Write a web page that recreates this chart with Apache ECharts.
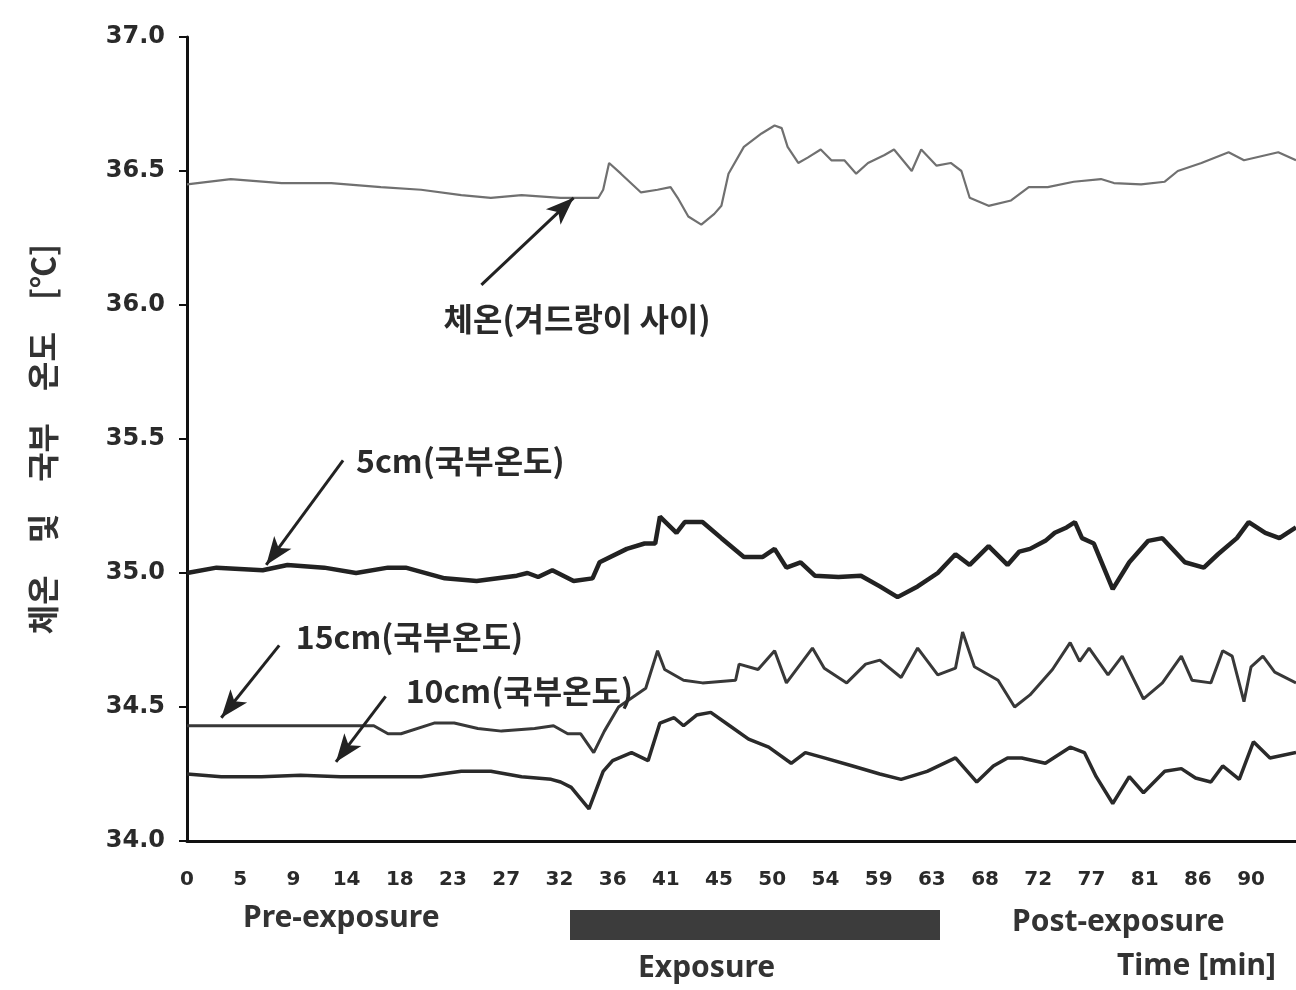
<!DOCTYPE html>
<html>
<head>
<meta charset="utf-8">
<script src="https://cdn.jsdelivr.net/npm/echarts@6/dist/echarts.min.js"></script>
<style>
html,body{margin:0;padding:0;background:#fff;}
#chart{width:1296px;height:990px;}
</style>
</head>
<body>
<div id="chart"></div>
<script>
// ---- data (time in min, temperature in °C) ----
const xTickLabels = ['0','5','9','14','18','23','27','32','36','41','45','50','54','59','63','68','72','77','81','86','90'];
const yTickLabels = ['34.0','34.5','35.0','35.5','36.0','36.5','37.0'];

const bodyTime = [0,3.7,8.0,12.2,16.4,19.8,23.2,25.7,28.3,31.6,34.8,35.2,35.7,36.7,38.4,39.8,40.9,41.5,42.4,43.5,44.6,45.2,45.8,47.1,48.6,49.7,50.3,50.8,51.7,52.5,53.6,54.5,55.6,56.6,57.6,59.0,59.8,61.3,62.1,63.4,64.6,65.5,66.2,67.8,69.7,71.2,72.8,75.0,77.3,78.4,80.7,82.7,83.8,85.8,88.1,89.4,92.3,93.8];
const bodyTemp = [36.45,36.47,36.455,36.455,36.44,36.43,36.41,36.40,36.41,36.40,36.40,36.43,36.53,36.49,36.42,36.43,36.44,36.40,36.33,36.30,36.34,36.37,36.49,36.59,36.64,36.67,36.66,36.59,36.53,36.55,36.58,36.54,36.54,36.49,36.53,36.56,36.58,36.50,36.58,36.52,36.53,36.50,36.40,36.37,36.39,36.44,36.44,36.46,36.47,36.455,36.45,36.46,36.50,36.53,36.57,36.54,36.57,36.54];

const cm5Time = [0,2.5,6.4,8.5,11.6,14.3,17.0,18.5,21.8,24.5,27.9,28.8,29.7,30.9,32.7,34.3,34.9,37.2,38.7,39.6,40.0,41.4,42.1,43.6,45.2,47.1,48.7,49.7,50.7,51.9,53.1,55.1,57.0,58.6,60.1,61.8,63.5,65.0,66.2,67.8,69.4,70.4,71.3,72.6,73.4,74.4,75.1,75.7,76.7,78.3,79.7,81.3,82.5,84.4,86.0,87.2,88.8,89.8,91.2,92.4,93.8];
const cm5Temp = [35.00,35.02,35.01,35.03,35.02,35.00,35.02,35.02,34.98,34.97,34.99,35.00,34.985,35.01,34.97,34.98,35.04,35.09,35.11,35.11,35.21,35.15,35.19,35.19,35.13,35.06,35.06,35.09,35.02,35.04,34.99,34.985,34.99,34.95,34.91,34.95,35.00,35.07,35.03,35.10,35.03,35.08,35.09,35.12,35.15,35.17,35.19,35.13,35.11,34.94,35.04,35.12,35.13,35.04,35.02,35.07,35.13,35.19,35.15,35.13,35.17];

const cm15Time = [0,1.2,4.6,10.2,13.6,15.8,17.0,18.1,20.9,22.6,24.6,26.6,29.4,31.0,32.2,33.3,34.4,35.3,36.5,38.8,39.8,40.4,42.0,43.6,46.4,46.7,48.3,49.7,50.7,52.9,53.9,55.8,57.4,58.6,60.4,61.8,63.5,65.0,65.6,66.6,68.6,70.0,71.3,73.2,74.7,75.5,76.3,77.9,79.1,80.9,82.5,84.1,85.0,86.6,87.6,88.4,89.4,90.0,91.0,92.0,93.8];
const cm15Temp = [34.43,34.43,34.43,34.43,34.43,34.43,34.40,34.40,34.44,34.44,34.42,34.41,34.42,34.43,34.40,34.40,34.33,34.41,34.50,34.57,34.71,34.64,34.60,34.59,34.60,34.66,34.64,34.71,34.59,34.72,34.645,34.59,34.66,34.675,34.61,34.72,34.62,34.645,34.78,34.65,34.60,34.50,34.545,34.64,34.74,34.67,34.72,34.62,34.69,34.53,34.59,34.69,34.60,34.59,34.71,34.69,34.52,34.65,34.69,34.63,34.59];

const cm10Time = [0,2.9,6.3,9.6,13.0,16.4,19.8,23.2,25.7,28.3,30.8,31.6,32.5,34.0,35.2,36.0,37.6,39.0,40.0,41.2,42.0,43.1,44.3,45.9,47.5,49.2,51.1,52.3,53.9,56.3,58.6,60.4,62.6,65.0,66.8,68.2,69.4,70.6,72.6,74.7,75.9,76.9,78.3,79.7,80.9,82.7,84.1,85.3,86.6,87.6,89.0,90.2,91.6,93.8];
const cm10Temp = [34.25,34.24,34.24,34.245,34.24,34.24,34.24,34.26,34.26,34.24,34.23,34.22,34.20,34.12,34.26,34.30,34.33,34.30,34.44,34.46,34.43,34.47,34.48,34.43,34.38,34.35,34.29,34.33,34.31,34.28,34.25,34.23,34.26,34.31,34.22,34.28,34.31,34.31,34.29,34.35,34.33,34.24,34.14,34.24,34.18,34.26,34.27,34.235,34.22,34.28,34.23,34.37,34.31,34.33];

// annotation labels with arrow (data coordinates: [time, temp])
const annoText = ['체온(겨드랑이 사이)','5cm(국부온도)','15cm(국부온도)','10cm(국부온도)'];
const annoTextAt = [[21.7,35.95],[14.3,35.42],[9.2,34.76],[18.5,34.56]];
const annoFrom = [[24.9,36.075],[13.2,35.42],[7.8,34.73],[16.8,34.54]];
const annoTo = [[32.7,36.40],[6.7,35.03],[2.9,34.46],[12.6,34.295]];

const zip = (a,b) => a.map((v,i)=>[v,b[i]]);
const FONT_KR = '"Noto Sans CJK KR","Noto Sans",sans-serif';

function anno(i){
  return {
    markLine:{
      silent:true, animation:false,
      symbol:['none','arrow'], symbolSize:[16,28],
      lineStyle:{color:'#222',width:3,type:'solid'},
      label:{show:false},
      data:[[{coord:annoFrom[i]},{coord:annoTo[i]}]]
    },
    markPoint:{
      silent:true, animation:false,
      symbol:'circle', symbolSize:0,
      label:{show:true,position:'right',distance:0,formatter:annoText[i],
        color:'#2a2a2a',fontSize:32,fontWeight:'bold',fontFamily:FONT_KR},
      data:[{coord:annoTextAt[i]}]
    }
  };
}

const chart = echarts.init(document.getElementById('chart'));
const series = [
  Object.assign({type:'line',name:'body',data:zip(bodyTime,bodyTemp),showSymbol:false,
    lineStyle:{color:'#707070',width:2.2}},anno(0)),
  Object.assign({type:'line',name:'5cm',data:zip(cm5Time,cm5Temp),showSymbol:false,
    lineStyle:{color:'#222',width:4.5}},anno(1)),
  Object.assign({type:'line',name:'15cm',data:zip(cm15Time,cm15Temp),showSymbol:false,
    lineStyle:{color:'#383838',width:3}},anno(2)),
  Object.assign({type:'line',name:'10cm',data:zip(cm10Time,cm10Temp),showSymbol:false,
    lineStyle:{color:'#2a2a2a',width:3.5}},anno(3))
];

const bottomFont = 'bold 30px "Noto Sans",sans-serif';
chart.setOption({
  animation:false,
  backgroundColor:'#fff',
  grid:{left:187,right:0,top:37,bottom:149},
  xAxis:{
    type:'value',min:0,max:93.8,interval:4.5,
    axisLine:{lineStyle:{color:'#111',width:3}},
    axisTick:{show:false},
    splitLine:{show:false},
    axisLabel:{margin:29,color:'#2a2a2a',fontSize:20,fontWeight:'bold',fontFamily:'"DejaVu Sans",sans-serif',
      showMaxLabel:false,
      formatter:v=>{const k=Math.round(v/4.5);return (Math.abs(k*4.5-v)<1e-6 && xTickLabels[k]!==undefined)?xTickLabels[k]:'';}}
  },
  yAxis:{
    type:'value',min:34,max:37,interval:0.5,
    axisLine:{show:true,lineStyle:{color:'#111',width:3}},
    axisTick:{show:true,length:8,lineStyle:{color:'#111',width:2}},
    splitLine:{show:false},
    axisLabel:{margin:22,color:'#2a2a2a',fontSize:24,fontWeight:'bold',fontFamily:'"DejaVu Sans",sans-serif',
      formatter:v=>yTickLabels[Math.round((v-34)/0.5)]},
    name:'체온　및　국부　온도　[℃]',
    nameLocation:'middle',nameGap:128,nameRotate:90,
    nameTextStyle:{color:'#333',fontSize:32,fontWeight:'bold',fontFamily:FONT_KR}
  },
  graphic:[
    {type:'text',left:243,top:903,style:{text:'Pre-exposure',fill:'#333',font:bottomFont}},
    {type:'rect',shape:{x:570,y:910,width:370,height:30},style:{fill:'#3c3c3c'}},
    {type:'text',left:638,top:953,style:{text:'Exposure',fill:'#333',font:bottomFont}},
    {type:'text',left:1012,top:907,style:{text:'Post-exposure',fill:'#333',font:bottomFont}},
    {type:'text',left:1117,top:951,style:{text:'Time [min]',fill:'#333',font:bottomFont}}
  ],
  series:series
});
</script>
</body>
</html>
